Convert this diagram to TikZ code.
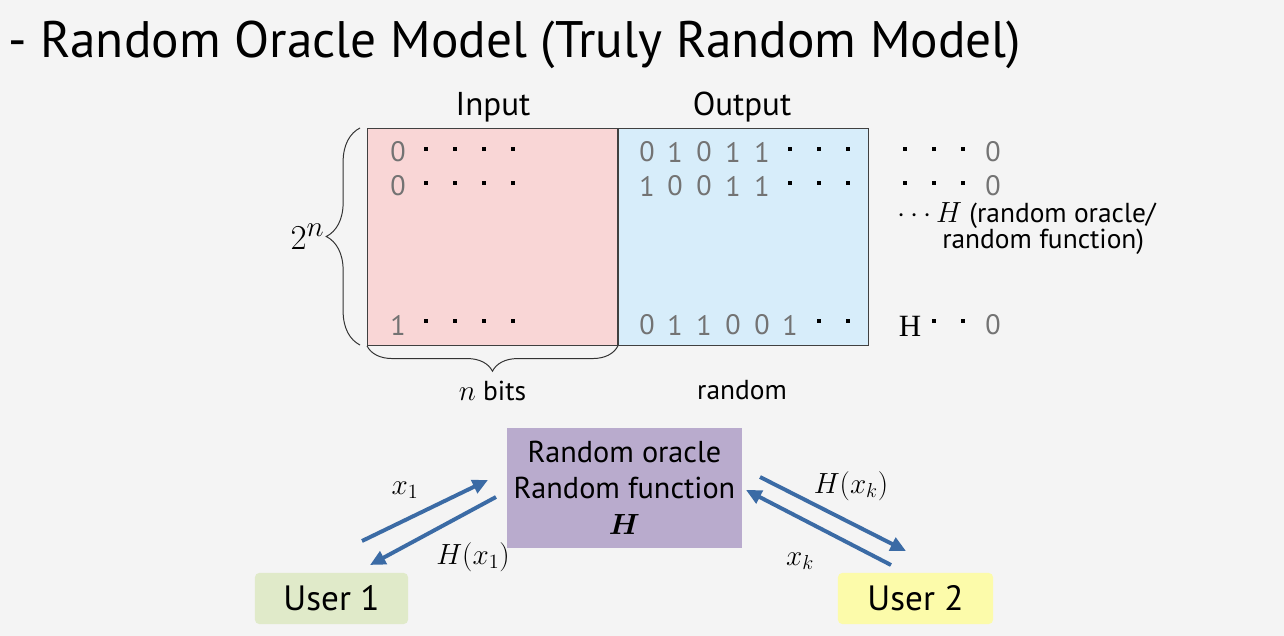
\documentclass[tikz,border=0pt]{standalone}
\usepackage{amsmath}
\usepackage{fontspec}
\setmainfont{PT Sans}
\newfontfamily\serifH{Liberation Serif}
\usetikzlibrary{arrows.meta, positioning, decorations.pathreplacing}
\definecolor{bgcol}{HTML}{F4F4F4}
\definecolor{incol}{HTML}{F9D6D6}
\definecolor{outcol}{HTML}{D7EDFA}
\definecolor{oraclecol}{HTML}{B9ABCD}
\definecolor{usera}{HTML}{E0EAC9}
\definecolor{userb}{HTML}{FCFBAA}
\definecolor{flowcol}{HTML}{3B6BA5}
\tikzset{
  cell/.style = {rectangle, draw = black!75, line width = 0.6pt, inner sep = 0pt},
  dig/.style = {text = black!55, font = \fontsize{20}{20}\selectfont, inner sep = 0pt},
  side/.style = {font = \fontsize{19.5}{19.5}\selectfont, inner sep = 0pt},
  head/.style = {font = \fontsize{23.5}{23.5}\selectfont, inner sep = 0pt},
  lbl/.style = {font = \fontsize{20.74}{20.74}\selectfont, inner sep = 0pt},
  userbox/.style = {rectangle, rounded corners = 3pt, minimum height = 1.275cm, font = \fontsize{25}{25}\selectfont},
  flow/.style = {draw = flowcol, line width = 2.8pt, -{Triangle[length = 11pt, width = 10pt]}},
  curly/.style = {draw = black!80, line width = 0.7pt, decorate}
}
\newcommand{\sqdot}[2]{\fill (#1-2,#2-2) rectangle (#1+2,#2+2);}

\begin{document}
\begin{tikzpicture}[x = 0.025cm, y = -0.025cm]
\fill [bgcol] (0,0) rectangle (1284,636);
\useasboundingbox (0,0) rectangle (1284,636);

% title
\node (title) [anchor = west, inner sep = 0pt, font = \fontsize{36.5}{36.5}\selectfont] at (8,45) {- Random Oracle Model (Truly Random Model)};

% table
\node (inbox) [cell, fill = incol, anchor = north west, minimum width = 6.25cm, minimum height = 5.425cm] at (367,128) {};
\node (outbox) [cell, fill = outcol, anchor = north west, minimum width = 6.25cm, minimum height = 5.425cm] at (inbox.north east) {};
\node (inhead) [head] at (493,107) {Input};
\node (outhead) [head] at (742,107) {Output};

% input column
\node (in1) [dig] at (398,152) {0};
\node (in2) [dig] at (398,186) {0};
\node (in3) [dig] at (398,325) {1};
\foreach \x in {426,455,484,513} {
  \sqdot{\x}{149}
  \sqdot{\x}{183}
  \sqdot{\x}{321}
}

% output column
\foreach \x/\d in {647/0, 675/1, 704/0, 733/1, 762/1}
  \node (outa\x) [dig] at (\x,152) {\d};
\foreach \x/\d in {647/1, 675/0, 704/0, 733/1, 762/1}
  \node (outb\x) [dig] at (\x,186) {\d};
\foreach \x/\d in {647/0, 675/1, 704/1, 733/0, 762/0, 790/1}
  \node (outc\x) [dig] at (\x,325) {\d};
\foreach \x in {790,819,848} {
  \sqdot{\x}{149}
  \sqdot{\x}{183}
}
\foreach \x in {819,848} {
  \sqdot{\x}{321}
}

% right column
\foreach \x in {905,934,963} {
  \sqdot{\x}{149}
  \sqdot{\x}{183}
}
\foreach \x in {934,963} {
  \sqdot{\x}{321}
}
\node (ra) [dig] at (993,152) {0};
\node (rb) [dig] at (993,186) {0};
\node (rc) [dig] at (993,325) {0};
\node (rh) [font = \serifH\fontsize{22}{22}\selectfont, inner sep = 0pt] at (910,326) {H};
\node (note1) [side, anchor = west] at (897,216) {$\cdots H$ (random oracle/};
\node (note2) [side, anchor = west] at (942,242) {random function)};

% braces
\coordinate (lbrb) at (360,345);
\coordinate (lbrt) at (360,128);
\draw [curly, decoration = {brace, amplitude = 24pt}] (lbrb) -- (lbrt)
  node (rows) [midway, left = 25pt, lbl, font = \fontsize{24.88}{24.88}\selectfont] {$2^n$};
\draw [curly, decoration = {brace, amplitude = 18pt}] (inbox.south east) -- (inbox.south west)
  node (nbits) [midway, below = 25pt, side] {$n$ bits};
\node (rand) [side] at (742,390) {random};

% oracle and users
\node (oracle) [rectangle, fill = oraclecol, minimum width = 5.875cm, minimum height = 3cm, align = center, font = \fontsize{21.5}{25}\selectfont] at (624.5,488) {Random oracle\\Random function\\[1pt]$\boldsymbol{H}$};
\node (user1) [userbox, fill = usera, minimum width = 3.825cm] at (331.5,598.5) {User 1};
\node (user2) [userbox, fill = userb, minimum width = 3.875cm] at (915.5,598.5) {User 2};

\coordinate (u1out) at (362,541);
\coordinate (u1in) at (370,565);
\coordinate (orin1) at (488,480);
\coordinate (orout1) at (496,497);
\coordinate (orout2) at (760,477);
\coordinate (orin2) at (746,490);
\coordinate (u2in) at (906,551);
\coordinate (u2out) at (891,565);

\draw [flow] (u1out) -- (orin1);
\draw [flow] (orout1) -- (u1in);
\draw [flow] (orout2) -- (u2in);
\draw [flow] (u2out) -- (orin2);

\node (xa) [lbl] at (405,490) {$x_1$};
\node (hxa) [lbl] at (473,557) {$H(x_1)$};
\node (hxk) [lbl] at (851,486) {$H(x_k)$};
\node (xk) [lbl] at (800,561) {$x_k$};
\end{tikzpicture}
\end{document}
